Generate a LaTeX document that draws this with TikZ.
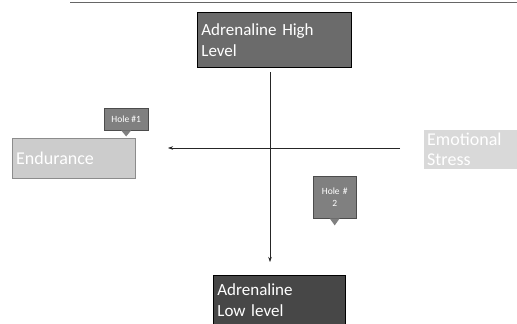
\documentclass[tikz,border=0pt]{standalone}
\usepackage{fontspec}
\setmainfont{Carlito}
\usetikzlibrary{arrows.meta}
\begin{document}
\begin{tikzpicture}[x=1pt,y=-1pt,
  bigbox/.style={draw=black,line width=0.8pt,inner sep=3pt,text=white,align=left,anchor=north west,font=\fontsize{17}{21}\selectfont},
  sidebox/.style={inner sep=3pt,text=white,align=left,anchor=north west,font=\fontsize{18}{20}\selectfont},
  holebox/.style={fill=black!50,draw=black!70,inner sep=2pt,text=white,align=center,anchor=north west,font=\fontsize{9.5}{11}\selectfont},
  axis/.style={line width=0.5pt,draw=black!85,-{Stealth[length=5pt,width=3.5pt]}}]
\useasboundingbox (0,0) rectangle (517,324);
\draw[black!60,line width=0.8pt] (70,2) -- (517,2);
\node[bigbox,fill=black!58,minimum width=154pt,minimum height=55pt,text width=146pt] (high) at (197,12) {Adrenaline High\\Level};
\node[bigbox,fill=black!72,minimum width=132pt,minimum height=49pt,text width=124pt] (low) at (213,275) {Adrenaline\\Low level};
\node[sidebox,fill=black!20,draw=black!45,minimum width=123pt,minimum height=40pt,text width=115pt] (left) at (12,138) {Endurance};
\node[sidebox,fill=black!15,minimum width=95pt,minimum height=38pt,text width=90pt] (right) at (424,130) {Emotional\\Stress};
\node[holebox,minimum width=44pt,minimum height=22pt] (h1) at (104,108) {Hole \#1};
\fill[black!50] ([xshift=-5pt]h1.south) -- ([yshift=-6pt]h1.south) -- ([xshift=5pt]h1.south) -- cycle;
\node[holebox,minimum width=43pt,minimum height=42pt,text width=38pt] (h2) at (313,176) {Hole \#\\ 2};
\fill[black!50] ([xshift=-5pt]h2.south) -- ([yshift=-7pt]h2.south) -- ([xshift=5pt]h2.south) -- cycle;
\coordinate (vtop) at (270,72);
\coordinate (vbot) at (270,262);
\coordinate (hr) at (400,148);
\coordinate (hl) at (168,148);
\draw[axis] (vtop) -- (vbot);
\draw[axis] (hr) -- (hl);
\end{tikzpicture}
\end{document}
